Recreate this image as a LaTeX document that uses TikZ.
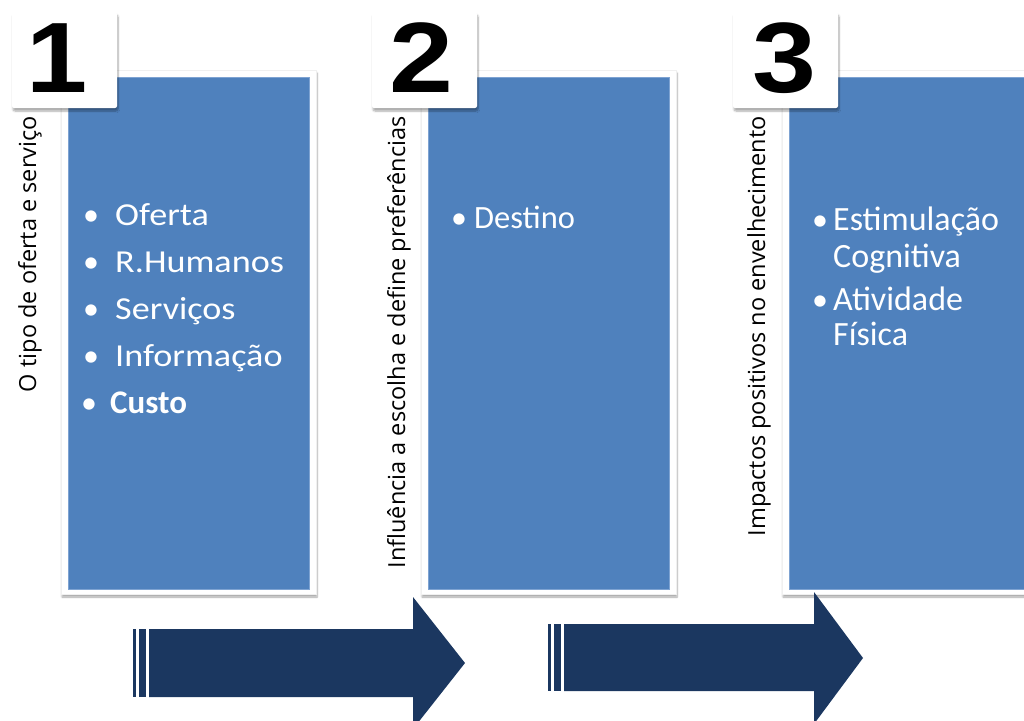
\documentclass[tikz,border=0pt]{standalone}
\usepackage{fontspec}
\setmainfont{Carlito}
\newfontfamily\sidefont{Open Sans}
\newfontfamily\numfont{Liberation Sans}
\usetikzlibrary{positioning,shadows.blur}
\definecolor{boxblue}{HTML}{4F81BD}
\definecolor{boxedge}{HTML}{7EA3D2}
\definecolor{navy}{HTML}{1B3760}

\begin{document}
\begin{tikzpicture}[x=1pt,y=-1pt]

\tikzset{
  panel/.style={fill=white, draw=black!6, inner sep=0pt, minimum width=255pt, minimum height=524pt,
    blur shadow={shadow xshift=1pt, shadow yshift=-3pt, shadow blur steps=6, shadow opacity=35}},
  bluebox/.style={fill=boxblue, draw=boxedge, line width=0.8pt, inner sep=0pt, minimum width=241pt, minimum height=512pt},
  numbox/.style={fill=white, inner sep=0pt, minimum width=105pt, minimum height=96pt, rounded corners=2pt,
    blur shadow={shadow xshift=1pt, shadow yshift=-3pt, shadow blur steps=6, shadow opacity=35}},
  digit/.style={font=\numfont\bfseries\fontsize{100}{100}\selectfont, inner sep=0pt, anchor=base},
  side/.style={font=\sidefont\fontsize{23.5}{23.5}\selectfont, rotate=90, anchor=base east, inner sep=0pt},
  dot/.style={font=\fontsize{32}{32}\selectfont, text=white, anchor=base, inner sep=0pt},
  item/.style={font=\fontsize{32}{32}\selectfont, text=white, anchor=base west, inner sep=0pt},
  bigitem/.style={item, font=\fontsize{34}{34}\selectfont},
}
\useasboundingbox (0,0) rectangle (1024,720);
\clip (0,0) rectangle (1024,720);

% first column
\node[panel] (p1) at (188.5,332) {};
\node[bluebox] (b1) at (188.5,333) {};
\node[numbox] (n1) at (64.5,60) {};
\node[digit] (d1) at (57,92) {\scalebox{1.1}[1]{1}};
\node[side] (s1) at (36,116) {O tipo de oferta e serviço};
\node[dot] (o1) at (91,225) {•};
\node[item] (oferta) at (115,225) {\scalebox{1.13}[1]{Oferta}};
\node[dot] (o2) at (91,272) {•};
\node[item] (rh) at (115,272) {\scalebox{1.13}[1]{R.Humanos}};
\node[dot] (o3) at (91,319) {•};
\node[item] (serv) at (115,319) {\scalebox{1.13}[1]{Serviços}};
\node[dot] (o4) at (91,366) {•};
\node[item] (info) at (115,366) {\scalebox{1.13}[1]{Informação}};
\node[dot] (o5) at (89,413) {•};
\node[item, font=\bfseries\fontsize{33}{33}\selectfont] (custo) at (110,413) {Custo};

% second column
\node[panel] (p2) at (548.5,332) {};
\node[bluebox] (b2) at (548.5,333) {};
\node[numbox] (n2) at (424.5,60) {};
\node[digit] (d2) at (421,92) {\scalebox{1.15}[1]{2}};
\node[side] (s2) at (405,116) {Influência a escolha e define preferências};
\node[dot] (o6) at (459,228) {•};
\node[item, font=\fontsize{32.5}{32.5}\selectfont] (destino) at (474,228) {Destino};

% third column
\node[panel] (p3) at (909.5,332) {};
\node[bluebox] (b3) at (909.5,333) {};
\node[numbox] (n3) at (785.5,60) {};
\node[digit] (d3) at (784,92) {\scalebox{1.15}[1]{3}};
\node[side] (s3) at (765,116) {Impactos positivos no envelhecimento};
\node[dot] (o7) at (820,230) {•};
\node[bigitem] (estim) at (833,230) {Estimulação};
\node[bigitem] (cogn) at (833,267) {Cognitiva};
\node[dot] (o8) at (820,310) {•};
\node[bigitem] (ativ) at (833,310) {Atividade};
\node[bigitem] (fis) at (833,345) {Física};

% arrows
\fill[navy] (133,629) rectangle (136,697);
\fill[navy] (139,629) rectangle (146,697);
\fill[navy] (149,629) -- (413,629) -- (413,597) -- (465,663) -- (413,729) -- (413,697) -- (149,697) -- cycle;

\fill[navy] (548,624) rectangle (551,691);
\fill[navy] (554,624) rectangle (561,691);
\fill[navy] (564,624) -- (814,624) -- (814,592) -- (863,658) -- (814,724) -- (814,691) -- (564,691) -- cycle;

\end{tikzpicture}
\end{document}
